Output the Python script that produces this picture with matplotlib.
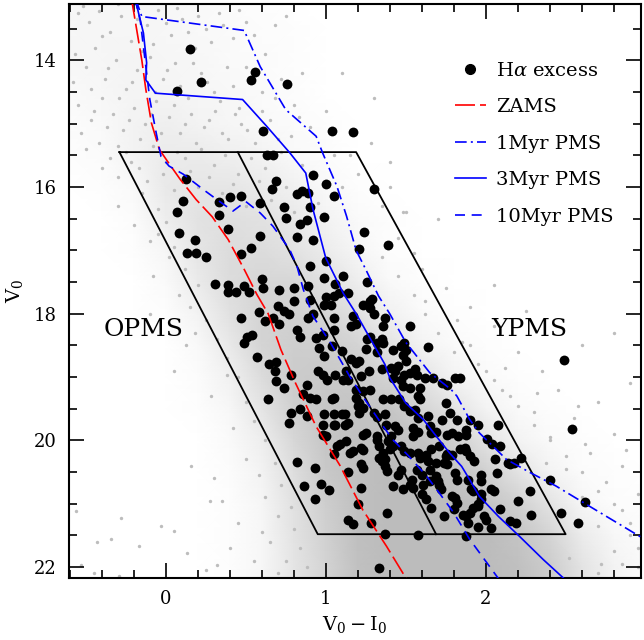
import numpy as np
import matplotlib
matplotlib.use('Agg')
import matplotlib.pyplot as plt
from matplotlib.colors import LinearSegmentedColormap
from matplotlib.lines import Line2D

plt.rcParams['font.family'] = ['DejaVu Serif']
plt.rcParams['mathtext.fontset'] = 'dejavuserif'

# ---- isochrones (V0-I0, V0) ----
zams_x = [-0.22, -0.15, -0.125, -0.09, -0.04, 0.02, 0.09, 0.19, 0.29, 0.39, 0.49, 0.57, 0.64, 0.72, 0.81, 0.94, 1.09, 1.23, 1.38, 1.52]
zams_v = [12.95, 14.0, 14.46, 14.99, 15.41, 15.63, 15.88, 16.2, 16.47, 16.83, 17.3, 17.7, 18.0, 18.57, 19.09, 19.78, 20.4, 21.09, 21.67, 22.25]

pms1_x = [-0.2, -0.15, 0.49, 0.59, 0.75, 0.94, 0.98, 1.07, 1.13, 1.19, 1.25, 1.33, 1.40, 1.50, 1.65, 1.785, 1.82, 1.90, 1.96, 2.025, 2.13, 2.28, 2.44, 2.65, 3.0]
pms1_v = [12.95, 13.31, 13.53, 14.1, 14.78, 15.2, 15.46, 15.99, 16.46, 17.0, 17.3, 17.72, 18.0, 18.45, 18.93, 19.2, 19.3, 19.67, 19.88, 20.04, 20.3, 20.51, 20.72, 21.04, 21.57]

pms3_x = [-0.2, -0.14, -0.12, -0.125, -0.065, 0.48, 0.63, 0.775, 0.875, 0.92, 1.0, 1.11, 1.19, 1.28, 1.37, 1.40, 1.50, 1.61, 1.69, 1.775, 1.85, 1.90, 1.96, 2.08, 2.21, 2.36, 2.52]
pms3_v = [12.95, 13.57, 14.04, 14.31, 14.52, 14.62, 15.04, 15.46, 15.78, 16.35, 17.12, 17.68, 18.0, 18.4, 18.8, 19.01, 19.41, 19.67, 19.93, 20.2, 20.41, 20.62, 20.88, 21.2, 21.51, 21.88, 22.25]

pms10_x = [-0.2, -0.16, -0.10, -0.06, -0.03, 0.02, 0.11, 0.25, 0.32, 0.42, 0.50, 0.59, 0.67, 0.775, 0.82, 0.86, 0.92, 1.03, 1.15, 1.23, 1.36, 1.42, 1.52, 1.63, 1.71, 1.80, 1.90, 2.1]
pms10_v = [12.95, 13.37, 14.62, 15.15, 15.52, 15.67, 15.8, 16.07, 16.2, 16.38, 16.23, 16.41, 16.62, 16.99, 17.25, 17.62, 18.04, 18.46, 18.99, 19.3, 19.78, 19.99, 20.25, 20.56, 20.83, 21.14, 21.56, 22.25]

# ---- OPMS / YPMS selection boxes ----
box_x = [-0.29, 1.19, 2.50, 0.95, -0.29]
box_v = [15.45, 15.45, 21.48, 21.48, 15.45]
split_x = [0.45, 1.69]
split_v = [15.45, 21.48]

# ---- H-alpha excess stars ----
ha_x = [0.15, 0.56, 0.535, 0.22, 0.07, 0.76, 0.61, 1.04, 1.17, 0.63, 0.67,
        0.125, 0.92, 0.69, 1.0, 0.665, 0.82, 0.85, 0.89, 0.47, 0.40, 0.33, 0.11, 0.59, 0.07, 0.74, 0.90, 1.05, 1.30, 0.33, 0.75, 0.84, 0.88, 0.99,
        0.08, 0.39, 0.59, 0.82, 0.92, 0.185, 1.24, 0.135, 0.19, 0.25, 0.47, 0.53, 1.21, 1.39, 0.90, 1.0,
        0.99, 1.06, 1.11, 1.26, 0.31, 0.39, 0.39, 0.44, 0.49, 0.52, 0.60, 0.61, 0.71, 0.80, 0.80, 0.89, 0.90, 1.0, 1.05, 1.03, 0.99, 1.08, 1.14, 1.23, 1.29, 1.275, 0.70, 0.74,
        0.77, 0.58, 0.47, 0.62, 0.67, 0.71, 0.89, 0.92, 1.05, 1.17, 1.16, 1.19, 0.82, 0.54, 0.51, 0.49, 0.94, 0.98, 1.26, 1.275, 1.30, 1.36, 1.37, 1.525, 1.05, 1.04, 0.84, 1.275, 1.35, 1.32, 1.36,
        0.96, 0.99, 1.10, 0.57, 0.645, 0.69, 0.68, 0.785, 0.95, 0.98, 1.01, 1.06, 1.125, 1.25, 1.32, 1.42, 1.47, 1.49, 1.50, 1.64, 1.48, 1.16, 1.19, 1.21, 1.35, 1.27, 1.41, 1.43, 1.45, 1.50, 1.56, 1.525, 1.57, 2.49,
        0.69, 0.88, 0.74, 0.86, 1.42, 1.47, 1.49, 1.62, 1.67, 1.73, 1.76, 1.81, 1.84, 1.11, 1.14, 1.22, 1.48, 1.53, 1.59, 1.19, 1.23, 1.275, 1.58, 1.59, 1.36, 1.41, 1.46, 1.49, 1.21, 1.23, 1.05, 0.64, 0.90, 0.94, 1.04, 1.19, 1.75,
        0.785, 0.84, 0.88, 0.99, 1.05, 1.10, 1.21, 1.20, 1.30, 1.32, 1.37, 1.375, 1.525, 1.56, 1.58, 1.12, 1.14, 1.06, 1.64, 1.65, 1.73, 1.78, 1.82, 1.9, 2.08, 0.77, 0.98, 1.05, 1.12, 1.43, 1.45, 1.41, 1.545, 1.58, 1.545, 1.66, 1.69, 1.23, 1.25, 1.32, 1.76, 1.83, 1.88, 1.88, 1.95, 2.54, 0.98, 1.0, 1.79,
        2.04, 2.01, 1.125, 1.07, 1.09, 1.15, 1.17, 1.05, 1.32, 1.33, 1.39, 1.36, 1.22, 1.23, 1.33, 1.35, 1.37, 1.40, 1.42, 1.47, 1.49, 1.53, 1.58, 1.63, 1.66, 1.71, 1.75, 1.79, 1.74, 1.87, 1.88, 1.93, 2.15, 2.22, 2.09, 2.14, 2.18, 2.06, 2.07, 1.84, 1.9, 1.59, 1.64, 1.69, 1.76, 0.82, 1.22, 1.23, 1.37, 1.38, 1.45, 1.47, 0.935, 1.14, 1.57, 1.60, 1.65, 1.76, 1.81,
        1.54, 1.69, 1.70, 1.82, 1.89, 1.92, 1.97, 2.05, 2.275, 1.97, 1.97, 2.035, 1.91, 2.40, 2.62, 2.20, 1.72, 1.71, 1.79, 1.81, 1.82, 1.65, 1.61, 1.42, 1.48, 1.525, 1.545, 1.22, 0.865, 0.97, 1.02, 1.60, 1.63, 0.93, 1.97, 1.95,
        1.20, 1.38, 1.14, 1.17, 1.28, 1.37, 1.58, 2.47, 2.58, 2.285, 2.09, 2.15, 2.19, 1.99, 2.0, 1.95, 1.92, 1.9, 2.035, 1.95, 1.89, 1.88, 1.88, 1.74, 1.80, 1.86, 1.66, 1.33]
ha_v = [13.82, 14.19, 14.31, 14.35, 14.49, 14.37, 15.12, 15.11, 15.14, 15.5, 15.5,
        15.88, 15.81, 15.9, 15.96, 16.03, 16.11, 16.06, 16.1, 16.14, 16.16, 16.24, 16.22, 16.26, 16.4, 16.32, 16.31, 16.14, 16.03, 16.45, 16.49, 16.58, 16.52, 16.48,
        16.73, 16.67, 16.78, 16.79, 16.84, 16.83, 16.71, 17.04, 17.05, 17.11, 17.06, 16.97, 16.98, 16.92, 17.25, 17.17,
        17.43, 17.53, 17.4, 17.5, 17.53, 17.54, 17.65, 17.66, 17.57, 17.66, 17.46, 17.59, 17.63, 17.59, 17.8, 17.57, 17.78, 17.73, 17.72, 17.87, 17.86, 17.67, 17.68, 17.87, 17.77, 17.8, 17.88, 17.96,
        18.0, 17.98, 18.07, 18.12, 18.07, 18.17, 18.07, 18.01, 18.07, 18.04, 18.2, 18.17, 18.25, 18.33, 18.36, 18.46, 18.38, 18.33, 18.4, 17.91, 18.01, 18.19, 18.07, 18.2, 18.25, 18.51, 18.36, 18.36, 18.4, 18.46, 18.46,
        18.54, 18.67, 18.59, 18.69, 18.8, 18.77, 18.91, 18.97, 18.91, 18.96, 19.04, 18.97, 18.91, 18.56, 18.61, 18.57, 18.51, 18.46, 18.57, 18.53, 18.65, 18.72, 18.78, 18.75, 18.88, 18.91, 18.86, 18.91, 18.83, 18.75, 18.88, 18.93, 18.96, 18.73,
        19.06, 19.13, 19.17, 19.26, 19.01, 19.04, 18.96, 19.01, 19.01, 19.09, 19.13, 19.01, 19.01, 19.04, 19.04, 18.99, 19.14, 19.17, 19.17, 19.2, 19.22, 19.2, 19.3, 19.35, 19.35, 19.35, 19.35, 19.46, 19.41, 19.49, 19.33, 19.35, 19.33, 19.35, 19.34, 19.33, 19.41,
        19.56, 19.51, 19.62, 19.59, 19.58, 19.58, 19.56, 19.46, 19.56, 19.63, 19.59, 19.75, 19.54, 19.52, 19.64, 19.59, 19.72, 19.75, 19.62, 19.78, 19.67, 19.56, 19.67, 19.67, 19.75, 19.72, 19.76, 19.75, 19.76, 19.78, 19.83, 19.93, 19.8, 19.86, 19.93, 19.88, 19.86, 19.91, 19.89, 19.93, 19.91, 19.93, 19.91, 19.83, 19.76, 19.82, 19.91, 19.93, 19.88,
        20.06, 19.97, 20.01, 20.09, 20.06, 20.2, 20.17, 20.21, 19.99, 20.09, 20.01, 20.2, 20.12, 20.15, 20.27, 20.33, 20.3, 20.14, 20.09, 20.09, 20.17, 20.2, 20.2, 20.23, 20.14, 20.09, 20.25, 20.23, 20.35, 20.12, 20.17, 20.33, 20.38, 20.27, 20.09, 20.35, 20.35, 20.3, 20.51, 20.14, 20.25, 20.27, 20.33, 20.35, 20.22, 20.34, 20.38, 20.43, 20.41, 20.49, 20.54, 20.46, 20.43, 20.5, 20.46, 20.54, 20.46, 20.38, 20.51,
        20.62, 20.56, 20.64, 20.62, 20.62, 20.8, 20.85, 20.8, 20.8, 20.54, 20.64, 20.77, 20.77, 20.62, 20.97, 20.95, 20.77, 20.7, 20.88, 20.91, 20.98, 20.64, 20.7, 20.72, 20.77, 20.7, 20.75, 20.75, 20.72, 20.68, 20.79, 20.85, 20.93, 20.93, 20.93, 21.01,
        21.01, 21.15, 21.26, 21.32, 21.3, 21.47, 21.5, 21.15, 21.31, 21.17, 21.09, 21.27, 21.31, 21.2, 21.25, 21.04, 21.06, 21.14, 21.39, 21.37, 21.31, 21.2, 21.51, 21.2, 21.09, 21.17, 21.06, 22.02]

# ---- field stars: density of the grey cloud (fraction of sky covered) ----
dens_x = [-0.6, -0.4, -0.2, 0.0, 0.2, 0.4, 0.6, 0.8, 1.0, 1.2, 1.4, 1.6, 1.8, 2.0, 2.2, 2.4, 2.6, 2.8, 3.0]
dens_v = [13.0, 13.5, 14.0, 14.5, 15.0, 15.5, 16.0, 16.5, 17.0, 17.5, 18.0, 18.5, 19.0, 19.5, 20.0, 20.5, 21.0, 21.5, 22.0, 22.5]
dens = [
    [.10, .12, .12, .10, .08, .05, .03, 0, 0, 0, 0, 0, 0, 0, 0, 0, 0, 0, 0],
    [.10, .12, .12, .10, .08, .06, .04, .02, 0, 0, 0, 0, 0, 0, 0, 0, 0, 0, 0],
    [.10, .12, .14, .12, .10, .07, .05, .03, 0, 0, 0, 0, 0, 0, 0, 0, 0, 0, 0],
    [.07, .10, .14, .14, .12, .09, .06, .04, 0, 0, 0, 0, 0, 0, 0, 0, 0, 0, 0],
    [.04, .08, .16, .20, .16, .12, .08, .05, .02, 0, 0, 0, 0, 0, 0, 0, 0, 0, 0],
    [.02, .05, .15, .26, .25, .20, .15, .08, .04, 0, 0, 0, 0, 0, 0, 0, 0, 0, 0],
    [0, .02, .08, .28, .32, .32, .25, .18, .08, .03, 0, 0, 0, 0, 0, 0, 0, 0, 0],
    [0, 0, .04, .22, .36, .40, .36, .28, .15, .06, .02, 0, 0, 0, 0, 0, 0, 0, 0],
    [0, 0, .02, .12, .33, .44, .44, .37, .24, .11, .03, 0, 0, 0, 0, 0, 0, 0, 0],
    [0, 0, 0, .06, .26, .44, .52, .50, .38, .22, .08, .03, 0, 0, 0, 0, 0, 0, 0],
    [0, 0, 0, .03, .16, .38, .55, .58, .52, .38, .18, .07, .03, 0, 0, 0, 0, 0, 0],
    [0, 0, 0, 0, .08, .28, .54, .62, .62, .55, .35, .15, .06, .03, 0, 0, 0, 0, 0],
    [0, 0, 0, 0, .04, .18, .44, .65, .68, .68, .55, .35, .15, .06, .02, 0, 0, 0, 0],
    [0, 0, 0, 0, .02, .10, .33, .60, .72, .75, .72, .55, .35, .15, .06, .02, 0, 0, 0],
    [0, 0, 0, 0, 0, .06, .22, .50, .72, .80, .80, .75, .60, .35, .15, .06, .02, 0, 0],
    [0, 0, 0, 0, 0, .04, .15, .42, .68, .80, .85, .85, .75, .60, .35, .15, .05, .02, 0],
    [0, 0, 0, 0, 0, .03, .12, .38, .62, .80, .85, .85, .85, .75, .60, .35, .12, .04, .02],
    [0, 0, 0, 0, 0, .03, .10, .35, .58, .80, .85, .85, .85, .85, .75, .55, .25, .10, .04],
    [0, 0, 0, 0, 0, .03, .10, .33, .55, .78, .85, .85, .85, .85, .80, .65, .35, .15, .06],
    [0, 0, 0, 0, 0, .03, .10, .33, .55, .78, .85, .85, .85, .85, .80, .65, .35, .15, .06],
]

# ---- individual field stars in the sparse parts ----
fld_x = [-0.55, -0.48, -0.42, -0.35, -0.28, -0.22, -0.12, -0.05, 0.03, 0.10, 0.18, 0.25, 0.33, 0.42, 0.50, 0.62, 0.75,
         -0.57, -0.50, -0.44, -0.38, -0.31, -0.25, -0.18, -0.10, -0.02, 0.06, 0.14, 0.22, 0.30, 0.38, 0.46, 0.55, 0.68, 0.85, 1.00,
         -0.55, -0.47, -0.40, -0.33, -0.27, -0.20, -0.13, -0.06, 0.02, 0.09, 0.16, 0.24, 0.31, 0.39, 0.47, 0.56, 0.65, 0.78, 0.90,
         -0.50, -0.42, -0.35, -0.25, -0.17, -0.08, 0.00, 0.07, 0.15, 0.22, 0.30, 0.37, 0.45, 0.53, 0.62, 0.72, 0.85, 1.05,
         -0.15, -0.05, -0.20, -0.10, 0.02, 0.00, -0.30, -0.08,
         -0.52, -0.40, -0.30, -0.18, -0.08, 0.00, 0.07, 0.14, 0.20, 0.28, 0.36, 0.46, 0.55, 0.68,
         -0.58, -0.47, -0.36, -0.29, -0.21, -0.15, -0.07, 0.01, 0.09, 0.17, 0.26, 0.34, 0.42, 0.50, 0.60, 0.72, 0.80,
         -0.53, -0.45, -0.37, -0.30, -0.23, -0.16, -0.09, -0.03, 0.05, 0.12, 0.19, 0.27, 0.35, 0.43, 0.51, 0.60, 0.70, 0.83,
         -0.40, -0.30, -0.22, -0.12, -0.02, 0.05, 0.12, 0.20, 0.27, 0.35, 0.42, 0.50, 0.58, 0.66, 0.75, 0.80, 0.95, 1.10,
         -0.05, 0.05, 0.12, 0.20, 0.15, 0.25, 0.32, 0.38, 0.45, 0.50, 0.55, 0.62, 0.68, 0.72, 0.78, 0.80, 0.84, 0.88, 0.70, 0.60,
         -0.56, -0.43, -0.34, -0.28, -0.17, -0.03, 0.05, 0.13, 0.275, 0.16, 0.125, 0.38, 0.32, -0.45, -0.53, -0.29,
         0.40, 0.55, 0.65, 0.45, 0.62, 0.30, 0.50, 0.42, 0.28, 0.05, 0.18, -0.10, 0.08, 0.35, 0.58, 0.70, 0.75, 0.25,
         1.60, 1.75, 1.90, 2.05, 1.85, 2.20, 2.35, 2.60, 2.80, 2.45, 2.70, 2.90, 2.30, 2.55, 2.80, 2.40, 2.65, 2.85, 2.50, 2.75,
         2.95, 2.60, 2.85, 2.70, 2.90, 2.80, 2.95, 1.45, 1.55, 1.70, 1.35, 1.20, 1.40, 1.30, 1.10, 2.05, 2.25, 1.95, 2.15, 2.05,
         1.48, 1.62, 1.82, 2.12, 2.32, 2.58, 2.38, 2.62, 2.88, 2.72, 2.52,
         1.35, 1.45, 1.55, 1.62, 1.70, 1.80, 1.90, 2.00, 2.10, 2.20, 2.30, 2.40, 2.50, 2.60, 2.70, 2.80, 2.90, 2.95, 2.85, 2.70,
         1.50, 1.28, 1.15, 1.40]
fld_v = [13.25, 13.40, 13.22, 13.55, 13.30, 13.70, 13.45, 13.20, 13.60, 13.35, 13.80, 13.50, 13.25, 13.65, 13.40, 13.90, 13.30,
         13.90, 14.10, 13.80, 14.30, 14.00, 14.45, 14.15, 13.95, 14.30, 14.05, 14.60, 14.20, 14.50, 14.10, 14.75, 14.35, 14.60, 14.20, 14.80,
         14.70, 14.95, 14.60, 14.85, 15.10, 14.75, 15.00, 14.65, 14.90, 15.15, 14.85, 15.05, 14.80, 15.25, 15.00, 15.30, 14.95, 15.20, 15.05,
         15.40, 15.30, 15.55, 15.45, 15.70, 15.35, 15.60, 15.45, 15.75, 15.40, 15.65, 15.50, 15.80, 15.55, 15.70, 15.45, 15.65, 15.50,
         16.10, 16.35, 16.60, 16.85, 17.10, 16.55, 16.30, 17.40,
         13.15, 13.62, 13.12, 13.35, 13.75, 13.42, 13.18, 13.55, 13.30, 13.72, 13.45, 13.20, 13.60, 13.45,
         14.35, 14.45, 14.12, 14.60, 14.35, 13.85, 14.50, 14.15, 14.40, 14.05, 14.35, 14.65, 14.40, 14.10, 14.50, 14.30, 14.70,
         15.15, 14.80, 15.05, 15.35, 14.95, 15.25, 14.85, 15.15, 14.70, 15.00, 15.30, 14.95, 15.15, 14.85, 15.10, 14.80, 15.25, 14.90,
         15.70, 15.85, 15.60, 15.90, 15.80, 16.05, 15.55, 16.00, 15.85, 16.10, 15.95, 16.30, 15.90, 16.20, 16.00, 16.40, 16.25, 16.00,
         16.75, 16.95, 17.30, 17.55, 17.90, 18.10, 18.40, 18.70, 19.00, 19.40, 19.70, 20.00, 20.35, 20.70, 21.05, 21.40, 21.70, 22.00, 22.10, 21.45,
         21.12, 21.60, 21.55, 21.22, 21.67, 21.35, 21.43, 21.77, 20.96, 20.40, 18.49, 18.96, 21.96, 22.09, 21.96, 22.14,
         21.70, 21.90, 21.60, 21.30, 20.90, 20.60, 20.30, 19.80, 19.30, 18.90, 18.30, 18.00, 17.70, 20.95, 20.55, 21.20, 21.90, 22.05,
         17.30, 17.60, 17.90, 18.20, 18.45, 18.60, 18.90, 18.50, 18.30, 19.20, 19.40, 19.10, 19.55, 19.65, 19.90, 20.00, 20.20, 20.40, 20.45, 20.65,
         20.85, 20.90, 21.10, 21.35, 21.50, 21.75, 22.00, 16.80, 17.05, 16.50, 16.30, 15.80, 15.60, 14.60, 14.20, 17.55, 17.95, 18.80, 19.30, 19.05,
         16.40, 17.80, 18.10, 18.85, 19.25, 19.45, 20.35, 20.05, 20.15, 21.95, 21.85,
         17.10, 17.40, 17.70, 18.00, 18.30, 18.60, 18.50, 18.90, 19.20, 19.45, 19.75, 19.95, 20.25, 20.50, 20.80, 21.00, 21.30, 21.70, 21.95, 22.10,
         16.40, 15.30, 15.50, 16.00]

fig, ax = plt.subplots(figsize=(6.44, 6.40), dpi=100)
fig.subplots_adjust(left=0.107, right=0.995, bottom=0.097, top=0.994)

greys = LinearSegmentedColormap.from_list('field', ['#ffffff', '#b0b0b0'])
gx, gv = np.meshgrid(dens_x, dens_v)
ax.pcolormesh(gx, gv, np.array(dens), cmap=greys, vmin=0, vmax=1, shading='gouraud', zorder=0, rasterized=True)
ax.scatter(fld_x, fld_v, s=6, c='#bdbdbd', linewidths=0, zorder=1)

ax.plot(box_x, box_v, color='black', lw=1.3, zorder=3)
ax.plot(split_x, split_v, color='black', lw=1.3, zorder=3)

ax.scatter(ha_x, ha_v, s=50, c='black', linewidths=0, zorder=4)

ax.plot(zams_x, zams_v, color='red', lw=1.2, ls=(0, (12, 3)), zorder=5)
ax.plot(pms1_x, pms1_v, color='blue', lw=1.2, ls=(0, (7, 2.5, 1.2, 2.5)), zorder=5)
ax.plot(pms3_x, pms3_v, color='blue', lw=1.2, ls='-', zorder=5)
ax.plot(pms10_x, pms10_v, color='blue', lw=1.2, ls=(0, (6, 4)), zorder=5)

ax.text(-0.14, 18.25, 'OPMS', fontsize=18, ha='center', va='center')
ax.text(2.275, 18.25, 'YPMS', fontsize=18, ha='center', va='center')

ax.set_xlim(-0.606, 2.97)
ax.set_ylim(22.17, 13.11)
ax.set_xticks([0, 1, 2])
ax.set_yticks([14, 16, 18, 20, 22])
ax.set_xticks(np.arange(-0.6, 3.0, 0.2), minor=True)
ax.set_yticks(np.arange(13.5, 22.5, 0.5), minor=True)
ax.tick_params(which='both', direction='in', top=True, right=True, width=1.2, labelsize=13)
ax.tick_params(which='major', length=11)
ax.tick_params(which='minor', length=5.5)
ax.tick_params(axis='y', pad=9)
ax.tick_params(axis='x', pad=9)
for sp in ax.spines.values():
    sp.set_linewidth(1.5)

ax.set_xlabel(r'$\mathrm{V_0 - I_0}$', fontsize=14, labelpad=4)
ax.set_ylabel(r'$\mathrm{V_0}$', fontsize=14, labelpad=6)

handles = [
    Line2D([], [], marker='o', ls='none', color='black', markersize=7),
    Line2D([], [], color='red', lw=1.2, ls=(0, (12, 3))),
    Line2D([], [], color='blue', lw=1.2, ls=(0, (7, 2.5, 1.2, 2.5))),
    Line2D([], [], color='blue', lw=1.2),
    Line2D([], [], color='blue', lw=1.2, ls=(0, (6, 4))),
]
labels = [r'H$\alpha$ excess', 'ZAMS', '1Myr PMS', '3Myr PMS', '10Myr PMS']
ax.legend(handles, labels, loc='upper left', bbox_to_anchor=(0.675, 0.899), frameon=False,
          fontsize=14, handlelength=1.6, handletextpad=0.5, labelspacing=0.95,
          borderpad=0, borderaxespad=0, numpoints=1)

fig.savefig('out.png', dpi=100)
